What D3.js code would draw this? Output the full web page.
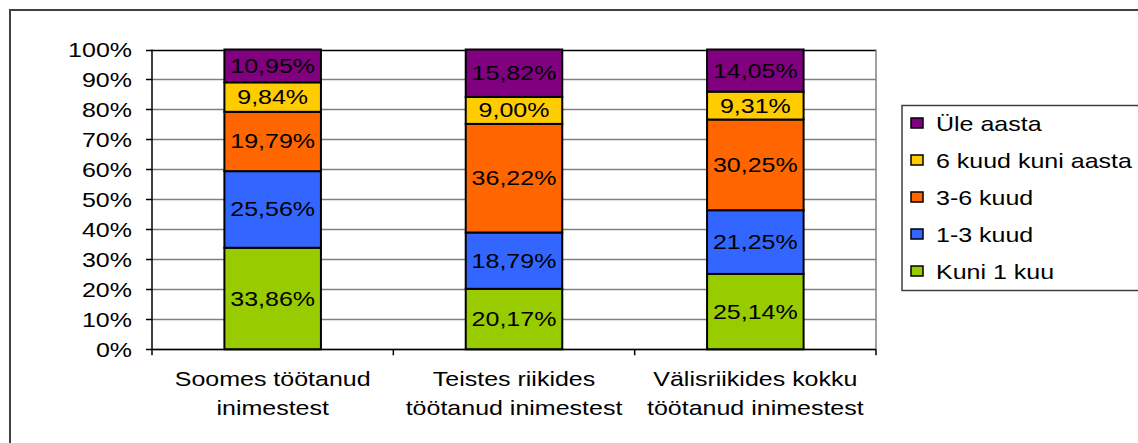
<!DOCTYPE html>
<html>
<head>
<meta charset="utf-8">
<script src="https://cdn.jsdelivr.net/npm/d3@7"></script>
<style>
  body { margin: 0; background: #fff; }
  text { font-family: "Liberation Sans", Arial, sans-serif; fill: #000; }
</style>
</head>
<body>
<div id="chart"></div>
<script>
const width = 1138;
const height = 443;

// data
const categories = [
    ["Soomes töötanud", "inimestest"],
    ["Teistes riikides", "töötanud inimestest"],
    ["Välisriikides kokku", "töötanud inimestest"]
];
const seriesNames = ["Kuni 1 kuu", "1-3 kuud", "3-6 kuud", "6 kuud kuni aasta", "Üle aasta"];
const seriesColors = ["#99CC00", "#3366FF", "#FF6600", "#FFCC00", "#800080"];
const kuni1 = [33.86, 20.17, 25.14];
const kuud13 = [25.56, 18.79, 21.25];
const kuud36 = [19.79, 36.22, 30.25];
const kuud6aasta = [9.84, 9.00, 9.31];
const ule = [10.95, 15.82, 14.05];
const yTicks = [0, 10, 20, 30, 40, 50, 60, 70, 80, 90, 100];

const seriesValues = [kuni1, kuud13, kuud36, kuud6aasta, ule];
const stretch = 1.19; // text in the source is wider than tall

let svg = d3.select("#chart").append("svg")
    .attr("width", width)
    .attr("height", height);

// outer chart border (cut off at right and bottom)
svg.append("rect")
    .attr("x", 10).attr("y", 10)
    .attr("width", 1200).attr("height", 500)
    .attr("fill", "none")
    .attr("stroke", "#404040")
    .attr("stroke-width", 2);

const plotLeft = 152, plotRight = 876, plotTop = 49.5, plotBottom = 349.3;

let x = d3.scaleBand()
    .domain(d3.range(categories.length))
    .range([plotLeft, plotRight])
    .paddingInner(0.6)
    .paddingOuter(0.3);

let y = d3.scaleLinear()
    .domain([0, 100])
    .range([plotBottom, plotTop]);

// gridlines
svg.append("g").selectAll("line")
    .data(yTicks)
    .join("line")
    .attr("x1", plotLeft).attr("x2", plotRight)
    .attr("y1", d => Math.round(y(d)) + 0.5)
    .attr("y2", d => Math.round(y(d)) + 0.5)
    .attr("stroke", d => d === 100 ? "#000" : "#808080")
    .attr("stroke-width", 1.5);

// right border of plot area
svg.append("line")
    .attr("x1", plotRight).attr("x2", plotRight)
    .attr("y1", y(100)).attr("y2", y(0))
    .attr("stroke", "#808080")
    .attr("stroke-width", 1.5);

// stacked bars
let stacks = categories.map((c, i) => {
    let base = 0;
    return seriesValues.map((vals, s) => {
        let seg = { cat: i, s: s, v: vals[i], y0: base, y1: base + vals[i] };
        base += vals[i];
        return seg;
    });
}).flat();

svg.append("g").selectAll("rect")
    .data(stacks)
    .join("rect")
    .attr("x", d => x(d.cat))
    .attr("width", x.bandwidth())
    .attr("y", d => y(Math.min(d.y1, 100)))
    .attr("height", d => y(d.y0) - y(Math.min(d.y1, 100)))
    .attr("fill", d => seriesColors[d.s])
    .attr("stroke", "#000")
    .attr("stroke-width", 2);

svg.append("g").selectAll("text")
    .data(stacks)
    .join("text")
    .attr("transform", d => `translate(${x(d.cat) + x.bandwidth() / 2},${(y(d.y0) + y(Math.min(d.y1, 100))) / 2 + 7}) scale(${stretch},1)`)
    .attr("text-anchor", "middle")
    .style("font-size", "21px")
    .text(d => d.v.toFixed(2).replace(".", ",") + "%");

// y axis
svg.append("line")
    .attr("x1", plotLeft).attr("x2", plotLeft)
    .attr("y1", y(100)).attr("y2", y(0))
    .attr("stroke", "#000").attr("stroke-width", 1.5);

svg.append("g").selectAll("line")
    .data(yTicks)
    .join("line")
    .attr("x1", plotLeft - 6).attr("x2", plotLeft)
    .attr("y1", d => Math.round(y(d)) + 0.5)
    .attr("y2", d => Math.round(y(d)) + 0.5)
    .attr("stroke", "#000").attr("stroke-width", 1.5);

svg.append("g").selectAll("text")
    .data(yTicks)
    .join("text")
    .attr("transform", d => `translate(132,${y(d) + 7.5}) scale(${stretch},1)`)
    .attr("text-anchor", "end")
    .style("font-size", "21px")
    .text(d => d + "%");

// x axis
svg.append("line")
    .attr("x1", plotLeft).attr("x2", plotRight)
    .attr("y1", Math.round(y(0)) + 0.5).attr("y2", Math.round(y(0)) + 0.5)
    .attr("stroke", "#000").attr("stroke-width", 1.5);

const step = x.step();
svg.append("g").selectAll("line")
    .data(d3.range(categories.length + 1))
    .join("line")
    .attr("x1", d => plotLeft + d * step).attr("x2", d => plotLeft + d * step)
    .attr("y1", y(0)).attr("y2", y(0) + 6)
    .attr("stroke", "#000").attr("stroke-width", 1.5);

let catLabels = svg.append("g").selectAll("g")
    .data(categories)
    .join("g");

catLabels.each(function(lines, i) {
    lines.forEach((line, k) => {
        d3.select(this).append("text")
            .attr("transform", `translate(${x(i) + x.bandwidth() / 2},${386 + k * 29}) scale(${stretch},1)`)
            .attr("text-anchor", "middle")
            .style("font-size", "21px")
            .text(line);
    });
});

// legend
let legend = svg.append("g");
legend.append("rect")
    .attr("x", 902).attr("y", 105.5)
    .attr("width", 300).attr("height", 185)
    .attr("fill", "#fff")
    .attr("stroke", "#404040")
    .attr("stroke-width", 1.5);

const legendOrder = d3.range(seriesNames.length).reverse();
legend.selectAll("rect.key")
    .data(legendOrder)
    .join("rect")
    .attr("class", "key")
    .attr("x", 911).attr("y", (d, k) => 118 + k * 37)
    .attr("width", 12).attr("height", 10)
    .attr("fill", d => seriesColors[d])
    .attr("stroke", "#000")
    .attr("stroke-width", 1.5);

legend.selectAll("text")
    .data(legendOrder)
    .join("text")
    .attr("transform", (d, k) => `translate(936,${131 + k * 37}) scale(${stretch},1)`)
    .style("font-size", "21px")
    .text(d => seriesNames[d]);
</script>
</body>
</html>
